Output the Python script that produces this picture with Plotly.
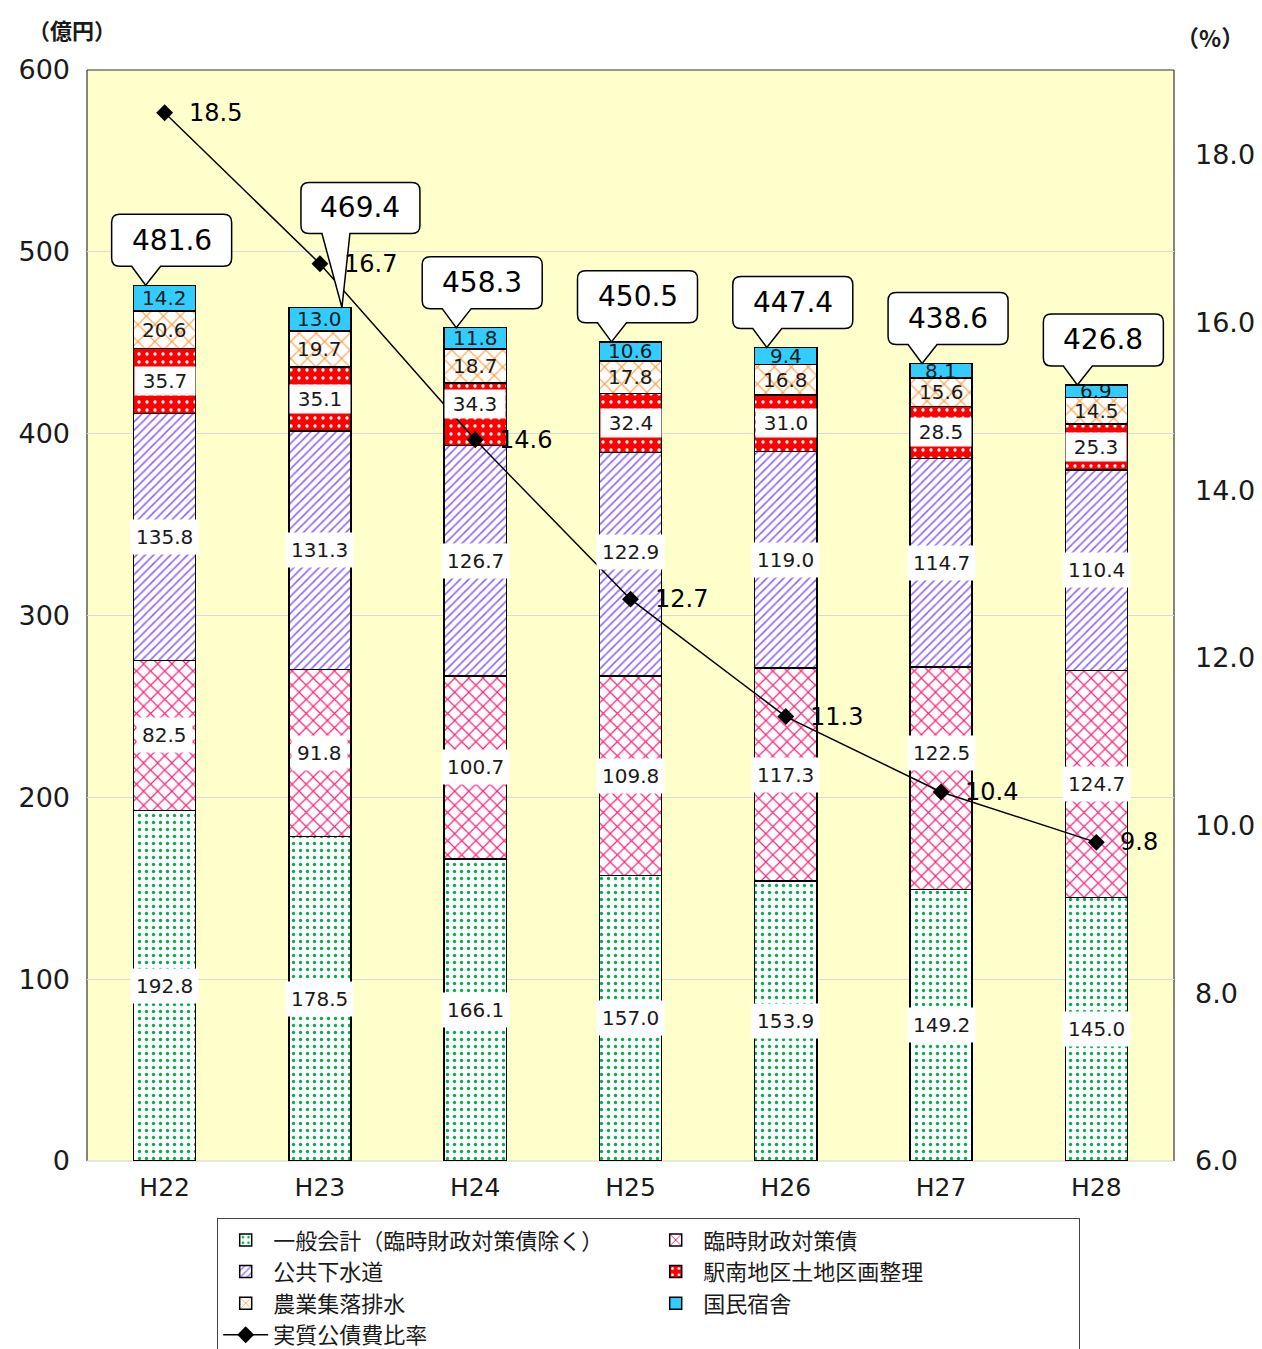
import plotly.graph_objects as go

# ---- data -------------------------------------------------------------
years = ["H22", "H23", "H24", "H25", "H26", "H27", "H28"]

general = [192.8, 178.5, 166.1, 157.0, 153.9, 149.2, 145.0]      # 一般会計（臨時財政対策債除く）
rinji = [82.5, 91.8, 100.7, 109.8, 117.3, 122.5, 124.7]          # 臨時財政対策債
sewer = [135.8, 131.3, 126.7, 122.9, 119.0, 114.7, 110.4]        # 公共下水道
ekinan = [35.7, 35.1, 34.3, 32.4, 31.0, 28.5, 25.3]              # 駅南地区土地区画整理
nogyo = [20.6, 19.7, 18.7, 17.8, 16.8, 15.6, 14.5]               # 農業集落排水
shukusha = [14.2, 13.0, 11.8, 10.6, 9.4, 8.1, 6.9]               # 国民宿舎
totals = [481.6, 469.4, 458.3, 450.5, 447.4, 438.6, 426.8]
ratio = [18.5, 16.7, 14.6, 12.7, 11.3, 10.4, 9.8]                # 実質公債費比率 (%)

left_ticks = [0, 100, 200, 300, 400, 500, 600]
right_ticks = [6.0, 8.0, 10.0, 12.0, 14.0, 16.0, 18.0]

# ---- styling ----------------------------------------------------------
NUM_FONT = "DejaVu Sans, Noto Sans CJK JP, sans-serif"
JP_FONT = "Noto Sans CJK JP, sans-serif"
TXT = "#1a1a1a"

series = [
    ("一般会計（臨時財政対策債除く）", general,
     dict(shape=".", fgcolor="#00B050", bgcolor="white", size=7, solidity=0.18), "white", "box"),
    ("臨時財政対策債", rinji,
     dict(shape="x", fgcolor="#FF1F7A", bgcolor="white", size=10, solidity=0.22), "white", "box"),
    ("公共下水道", sewer,
     dict(shape="/", fgcolor="#8A5CF6", bgcolor="white", size=6, solidity=0.25), "white", "box"),
    ("駅南地区土地区画整理", ekinan,
     dict(shape=".", fgcolor="white", bgcolor="#FF0000", size=8, solidity=0.15), "#FF0000", "full"),
    ("農業集落排水", nogyo,
     dict(shape="x", fgcolor="#FF9933", bgcolor="white", size=12, solidity=0.18), "white", "none"),
    ("国民宿舎", shukusha, None, "#33CCFF", "none"),
]

# labels nudged upward (px) where they would sit on the ratio line
label_nudge = {("臨時財政対策債", "H27"): 25, ("公共下水道", "H25"): 12,
               ("駅南地区土地区画整理", "H24"): 10}

fig = go.Figure()
annotations = []
base = [0.0] * len(years)

for name, vals, pattern, color, label_style in series:
    marker = dict(color=color, line=dict(color="black", width=1.5))
    if pattern:
        marker["pattern"] = dict(fillmode="replace", **pattern)
    fig.add_trace(go.Bar(name=name, x=years, y=vals, marker=marker, width=0.4))
    for i, v in enumerate(vals):
        mid = base[i] + v / 2
        ann = dict(x=years[i], y=mid, xref="x", yref="y", text=f"{v:.1f}",
                   showarrow=False, yshift=label_nudge.get((name, years[i]), 0),
                   font=dict(family=NUM_FONT, size=20, color=TXT))
        if label_style == "box":
            ann.update(bgcolor="white", borderpad=5)
        elif label_style == "full":
            ann.update(bgcolor="white", width=58, height=26)
        annotations.append(ann)
        base[i] += v

# 実質公債費比率 line
fig.add_trace(go.Scatter(
    name="実質公債費比率", x=years, y=ratio, yaxis="y2", mode="lines+markers",
    line=dict(color="black", width=1.5),
    marker=dict(symbol="diamond", size=13, color="black"),
))
for i, r in enumerate(ratio):
    annotations.append(dict(x=years[i], y=r, xref="x", yref="y2", text=f"{r:.1f}",
                            showarrow=False, xanchor="left", xshift=22,
                            font=dict(family=NUM_FONT, size=24, color="black")))

# ---- total callouts (speech bubbles anchored on each bar top) ----------
def bubble_path(x0, x1, yb, yt, pb0, pb1, tip, r=8):
    return (f"M {x0 + r},{yt} L {x1 - r},{yt} Q {x1},{yt} {x1},{yt - r} "
            f"L {x1},{yb + r} Q {x1},{yb} {x1 - r},{yb} "
            f"L {pb1},{yb} L {tip},0 L {pb0},{yb} "
            f"L {x0 + r},{yb} Q {x0},{yb} {x0},{yb + r} "
            f"L {x0},{yt - r} Q {x0},{yt} {x0 + r},{yt} Z")

default_geom = dict(x0=-53, x1=67, yb=19, yt=71, pb0=-33, pb1=-4, tip=-19)
tall_geom = dict(x0=-19, x1=100, yb=74, yt=125, pb0=2, pb1=30, tip=22)

shapes = []
for i, t in enumerate(totals):
    g = tall_geom if years[i] == "H23" else default_geom
    shapes.append(dict(type="path", layer="above", xref="x", yref="y",
                       xsizemode="pixel", ysizemode="pixel", xanchor=i, yanchor=t,
                       path=bubble_path(**g), fillcolor="white",
                       line=dict(color="black", width=1.5)))
    annotations.append(dict(x=years[i], y=t, xref="x", yref="y", text=f"{t:.1f}",
                            showarrow=False, xshift=(g["x0"] + g["x1"]) / 2,
                            yshift=(g["yb"] + g["yt"]) / 2,
                            font=dict(family=NUM_FONT, size=28, color="black")))

# plot-area frame: dark on left/top/right, light along the base
for x0, y0, x1, y1, c in [(0, 0, 0, 1, "#333"), (0, 1, 1, 1, "#333"),
                          (1, 0, 1, 1, "#333"), (0, 0, 1, 0, "#cfcfcf")]:
    shapes.append(dict(type="line", xref="paper", yref="paper", x0=x0, y0=y0,
                       x1=x1, y1=y1, line=dict(color=c, width=1.2), layer="below"))

# axis unit captions, placed in page pixels
for text, px, py, size in [("<b>（億円）</b>", 72, 29, 22), ("<b>（%）</b>", 1210, 37, 23)]:
    annotations.append(dict(text=text, showarrow=False, xref="paper", yref="paper",
                            x=(px - 87) / 1087, y=(1161 - py) / 1091,
                            xanchor="center", yanchor="middle",
                            font=dict(family=JP_FONT, size=size, color=TXT)))

fig.update_layout(
    width=1262, height=1349,
    margin=dict(l=87, r=88, t=70, b=188, autoexpand=False),
    paper_bgcolor="white", plot_bgcolor="#FFFFCC",
    barmode="stack", bargap=0.6,
    showlegend=True,
    legend=dict(orientation="h", x=(217 - 87) / 1087, xanchor="left",
                y=(1161 - 1218) / 1091, yanchor="top", traceorder="normal",
                entrywidth=370, entrywidthmode="pixels", itemwidth=45,
                font=dict(family=JP_FONT, size=22, color=TXT),
                bgcolor="white", bordercolor="#444", borderwidth=1.2),
    xaxis=dict(type="category", showgrid=False, zeroline=False, showline=False,
               ticks="", tickfont=dict(family=NUM_FONT, size=25, color=TXT),
               ticklabelstandoff=9),
    yaxis=dict(range=[0, 600], tickvals=left_ticks, showgrid=True,
               gridcolor="#d9d9d9", gridwidth=1, zeroline=False, showline=False,
               ticks="", ticklabelstandoff=16,
               tickfont=dict(family=NUM_FONT, size=27, color=TXT)),
    yaxis2=dict(range=[6.0, 19.01], tickvals=right_ticks, tickformat=".1f",
                overlaying="y", side="right", showgrid=False, zeroline=False,
                showline=False, ticks="", ticklabelstandoff=20,
                tickfont=dict(family=NUM_FONT, size=27, color=TXT)),
    shapes=shapes,
    annotations=annotations,
)

fig.write_html("out.html")
